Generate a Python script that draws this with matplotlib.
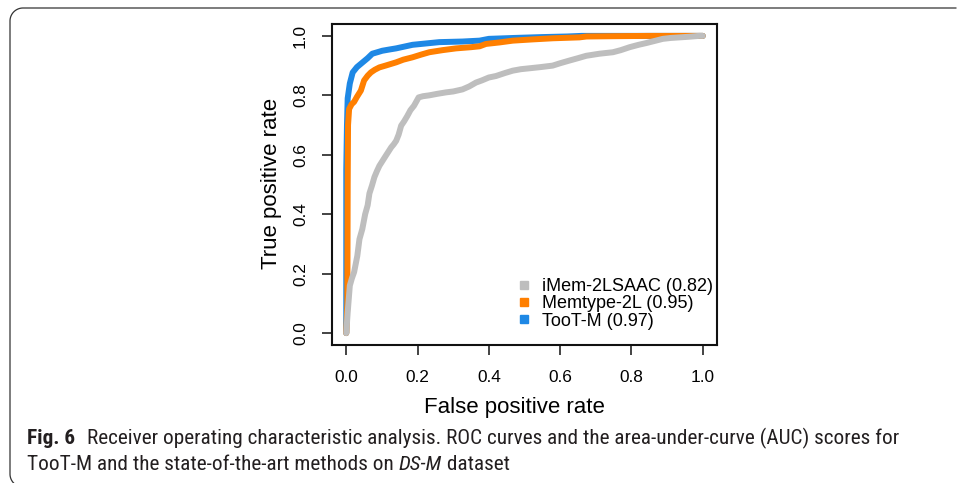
import numpy as np
import matplotlib
matplotlib.use("Agg")
import matplotlib.pyplot as plt
from matplotlib.lines import Line2D
from matplotlib.transforms import IdentityTransform
from matplotlib import font_manager

# ---------------- data ----------------
series_names = ["iMem-2LSAAC", "Memtype-2L", "TooT-M"]
auc_scores = [0.82, 0.95, 0.97]

imem_fpr = [0, 0.004, 0.010, 0.016, 0.022, 0.031, 0.037, 0.045, 0.053, 0.060, 0.065,
            0.072, 0.079, 0.086, 0.093, 0.102, 0.111, 0.118, 0.126, 0.133, 0.140,
            0.147, 0.154, 0.162, 0.171, 0.180, 0.190, 0.197, 0.203, 0.215, 0.233,
            0.255, 0.280, 0.300, 0.326, 0.345, 0.364, 0.380, 0.400, 0.420, 0.445,
            0.467, 0.490, 0.514, 0.545, 0.579, 0.600, 0.626, 0.650, 0.673, 0.710,
            0.748, 0.770, 0.795, 0.820, 0.842, 0.865, 0.888, 0.910, 0.935, 0.960,
            0.990, 1.0]
imem_tpr = [0, 0.07, 0.16, 0.185, 0.205, 0.26, 0.316, 0.35, 0.40, 0.43, 0.47,
            0.496, 0.525, 0.545, 0.563, 0.58, 0.597, 0.61, 0.625, 0.635, 0.647,
            0.668, 0.698, 0.712, 0.73, 0.75, 0.765, 0.78, 0.793, 0.797, 0.80,
            0.805, 0.81, 0.813, 0.82, 0.83, 0.843, 0.85, 0.86, 0.865, 0.875,
            0.883, 0.888, 0.891, 0.895, 0.90, 0.908, 0.917, 0.925, 0.933, 0.94,
            0.945, 0.952, 0.962, 0.97, 0.976, 0.983, 0.99, 0.993, 0.995, 0.997,
            1.0, 1.0]

memtype_fpr = [0, 0.003, 0.004, 0.005, 0.008, 0.015, 0.022, 0.030, 0.041, 0.050,
               0.060, 0.069, 0.080, 0.093, 0.110, 0.140, 0.160, 0.186, 0.210, 0.233,
               0.270, 0.308, 0.350, 0.374, 0.392, 0.430, 0.467, 0.520, 0.580, 0.654,
               0.674, 0.750, 0.850, 0.980, 1.0]
memtype_tpr = [0, 0.10, 0.50, 0.70, 0.754, 0.77, 0.778, 0.795, 0.816, 0.85,
               0.866, 0.877, 0.886, 0.894, 0.90, 0.911, 0.92, 0.928, 0.937, 0.945,
               0.952, 0.958, 0.962, 0.965, 0.973, 0.978, 0.984, 0.988, 0.992, 0.995,
               0.998, 0.999, 1.0, 1.0, 1.0]

tootm_fpr = [0, 0, 0.002, 0.004, 0.010, 0.018, 0.030, 0.045, 0.060, 0.073, 0.090,
             0.101, 0.120, 0.140, 0.186, 0.261, 0.326, 0.374, 0.400, 0.470, 0.550,
             0.620, 0.660, 1.0]
tootm_tpr = [0, 0.55, 0.70, 0.79, 0.84, 0.877, 0.895, 0.91, 0.925, 0.94, 0.946,
             0.95, 0.954, 0.958, 0.97, 0.979, 0.981, 0.984, 0.99, 0.993, 0.996,
             0.998, 1.0, 1.0]

tick_values = [0.0, 0.2, 0.4, 0.6, 0.8, 1.0]
tick_labels = ["0.0", "0.2", "0.4", "0.6", "0.8", "1.0"]

colors = {"iMem-2LSAAC": "#BEBEBE", "Memtype-2L": "#FF7F00", "TooT-M": "#1E88E5"}

caption_bold = "Fig. 6"
caption_line1 = "Receiver operating characteristic analysis. ROC curves and the area-under-curve (AUC) scores for"
caption_line2a = "TooT-M and the state-of-the-art methods on "
caption_line2b = "DS-M"
caption_line2c = " dataset"

# ---------------- figure ----------------
W, H = 957, 483
fig = plt.figure(figsize=(W / 100, H / 100), dpi=100)
fig.patch.set_facecolor("white")

def fx(px):
    return px / W

def fy(py):
    return 1 - py / H

ax_font = "Liberation Sans"
ax = fig.add_axes([fx(332), fy(345), fx(717) - fx(332), fy(24) - fy(345)])
ax.set_xlim(-0.04, 1.04)
ax.set_ylim(-0.04, 1.04)

lw = 4.3
ax.plot(tootm_fpr, tootm_tpr, color=colors["TooT-M"], lw=lw,
        solid_capstyle="round", solid_joinstyle="round")
ax.plot(memtype_fpr, memtype_tpr, color=colors["Memtype-2L"], lw=lw,
        solid_capstyle="round", solid_joinstyle="round")
ax.plot(imem_fpr, imem_tpr, color=colors["iMem-2LSAAC"], lw=lw,
        solid_capstyle="round", solid_joinstyle="round")

for sp in ax.spines.values():
    sp.set_linewidth(1.5)
    sp.set_color("#111111")

ax.set_xticks(tick_values)
ax.set_xticklabels(tick_labels, fontfamily=ax_font, fontsize=12.4)
ax.set_yticks(tick_values)
ax.set_yticklabels(tick_labels, fontfamily=ax_font, fontsize=12.4,
                   rotation=90, va="center")
ax.tick_params(axis="both", direction="out", length=7.2, width=1.1, color="#111111")
ax.tick_params(axis="x", pad=11)
ax.tick_params(axis="y", pad=10)

fig.text(fx(514), fy(407), "False positive rate", ha="center", va="center",
         fontfamily=ax_font, fontsize=16)
fig.text(fx(272), fy(183), "True positive rate", ha="center", va="center",
         rotation=90, fontfamily=ax_font, fontsize=16)

handles = [Line2D([], [], marker="s", linestyle="none", markersize=5.2,
                  color=colors[n]) for n in series_names]
labels = [f"{n} ({a:.2f})" for n, a in zip(series_names, auc_scores)]
ax.legend(handles, labels, loc="upper left",
          bbox_to_anchor=(fx(515), fy(278)), bbox_transform=fig.transFigure,
          frameon=False, prop={"family": ax_font, "size": 13},
          handlelength=1.0, handletextpad=0.5, labelspacing=0.02,
          borderpad=0, borderaxespad=0)

# ---------------- frame (pixel coordinates, y from top) ----------------
r = 13
left, top, bottom = 10, 8, 474
t1 = np.linspace(np.pi / 2, np.pi, 20)
t2 = np.linspace(np.pi, 1.5 * np.pi, 20)
px = np.concatenate([[W - 0.5], left + r + r * np.cos(t1),
                     left + r + r * np.cos(t2)])
py = np.concatenate([[top], top + r - r * np.sin(t1),
                     bottom - r * np.sin(t2)])
fig.add_artist(Line2D(px, H - py, transform=IdentityTransform(),
                      color="#333333", lw=0.9, solid_joinstyle="round",
                      solid_capstyle="butt"))

# ---------------- caption ----------------
names = {f.name for f in font_manager.fontManager.ttflist}
cap_font = "DejaVu Sans"
for cand in ["Liberation Sans Narrow", "Roboto Condensed", "Open Sans Condensed",
             "Noto Sans", "Open Sans"]:
    if cand in names:
        cap_font = cand
        break

renderer = fig.canvas.get_renderer()
cap_color = "#231F20"

def draw_line(pieces, x0, base_y, size):
    arts = []
    x = x0
    for txt, weight, style, gap in pieces:
        x += gap * size * 100 / 72
        t = fig.text(fx(x), fy(base_y), txt, ha="left", va="baseline",
                     fontfamily=cap_font, fontsize=size, fontweight=weight,
                     fontstyle=style, color=cap_color)
        bb = t.get_window_extent(renderer)
        x = bb.x1
        arts.append(t)
    return arts, x

line1 = [(caption_bold, "bold", "normal", 0), (caption_line1, "normal", "normal", 0.55)]
arts, xend = draw_line(line1, 27, 444, 10)
scale = (896 - 27) / (xend - 27)
for a in arts:
    a.remove()
size = 10 * scale
draw_line(line1, 27, 444, size)
line2 = [(caption_line2a, "normal", "normal", 0), (caption_line2b, "normal", "italic", 0),
         (caption_line2c, "normal", "normal", 0)]
draw_line(line2, 27, 470, size)

fig.savefig("out.png", dpi=100)
